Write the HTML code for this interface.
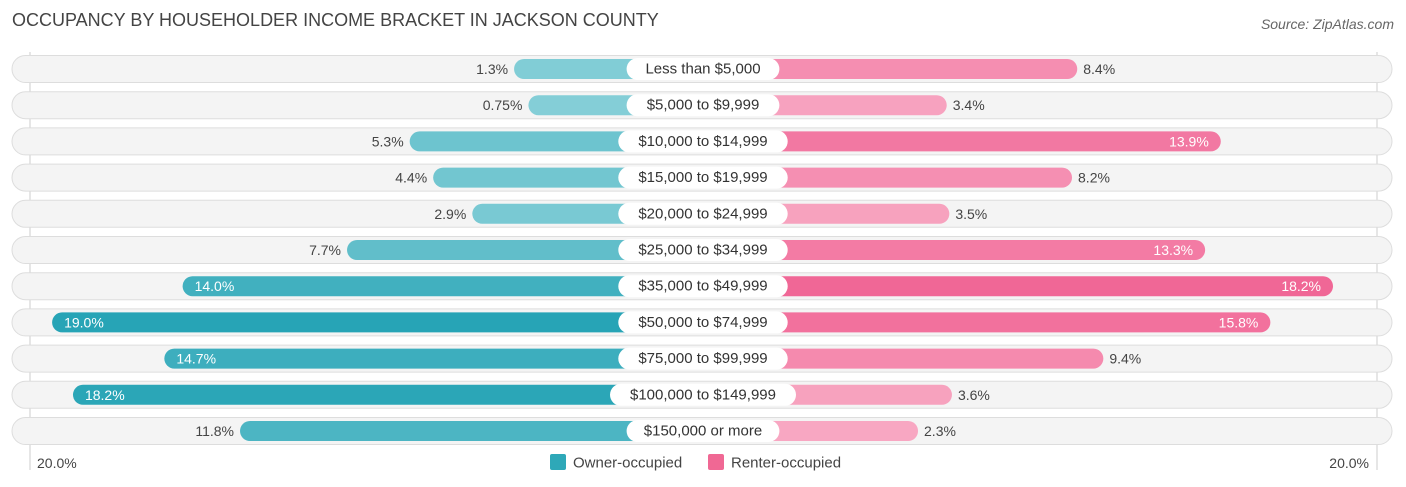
<!DOCTYPE html>
<html><head><meta charset="utf-8">
<style>
body{margin:0;background:#fff;font-family:"Liberation Sans",sans-serif;}
#wrap{position:relative;width:1406px;height:487px;overflow:hidden;}
.t{position:absolute;white-space:nowrap;}
</style></head>
<body>
<div id="wrap">
<div class="t" style="left:12px;top:10px;font-size:18px;color:#444;">OCCUPANCY BY HOUSEHOLDER INCOME BRACKET IN JACKSON COUNTY</div>
<div class="t" style="right:12px;top:16px;font-size:14px;color:#666;font-style:italic;">Source: ZipAtlas.com</div>
<svg id="svg" width="1406" height="487" style="position:absolute;left:0;top:0;"></svg>
</div>
<script>
const categories=["Less than $5,000","$5,000 to $9,999","$10,000 to $14,999","$15,000 to $19,999","$20,000 to $24,999","$25,000 to $34,999","$35,000 to $49,999","$50,000 to $74,999","$75,000 to $99,999","$100,000 to $149,999","$150,000 or more"];
const ownerValues=[1.3,0.75,5.3,4.4,2.9,7.7,14.0,19.0,14.7,18.2,11.8];
const renterValues=[8.4,3.4,13.9,8.2,3.5,13.3,18.2,15.8,9.4,3.6,2.3];
const ownerLabels=["1.3%","0.75%","5.3%","4.4%","2.9%","7.7%","14.0%","19.0%","14.7%","18.2%","11.8%"];
const renterLabels=["8.4%","3.4%","13.9%","8.2%","3.5%","13.3%","18.2%","15.8%","9.4%","3.6%","2.3%"];
const axisLabels=["20.0%","20.0%"];

const NS="http://www.w3.org/2000/svg";
const svg=document.getElementById('svg');
const CX=703,K=26.1,C=155;
function xLen(v){return C+v*K;}
function yRow(i){return 69+i*36.2;}
function mix(a,b,t){return '#'+a.map((c,j)=>Math.round(c+(b[j]-c)*t).toString(16).padStart(2,'0')).join('');}
function mk(tag,attrs){const e=document.createElementNS(NS,tag);for(const k in attrs)e.setAttribute(k,attrs[k]);svg.appendChild(e);return e;}
function txt(x,y,s,anchor,fill,size){const e=mk('text',{x:x,y:y,'text-anchor':anchor,fill:fill,'font-size':size||14,'font-family':'Liberation Sans, sans-serif','dominant-baseline':'central'});e.textContent=s;return e;}

// gridlines
let g1=mk('line',{x1:30,x2:30,y1:52,y2:470,stroke:'#ccc','stroke-width':1});


let g2=mk('line',{x1:1377,x2:1377,y1:52,y2:470,stroke:'#ccc','stroke-width':1});



categories.forEach((cat,i)=>{
  const y=yRow(i);
  const bg=mk('rect',{x:12,y:y-13.5,width:1380,height:27,rx:13.5,fill:'#f4f4f4',stroke:'#ddd','stroke-width':1});
  
  
  const ov=ownerValues[i],rv=renterValues[i];
  const ol=xLen(ov),rl=xLen(rv);
  const ob=mk('rect',{x:CX-ol,y:y-10,width:ol,height:20,rx:10,fill:mix([0x88,0xd0,0xd8],[0x27,0xa4,0xb6],Math.min(ov/19,1))});
  
  
  const rb=mk('rect',{x:CX,y:y-10,width:rl,height:20,rx:10,fill:mix([0xf9,0xb0,0xc8],[0xf0,0x64,0x94],Math.min(rv/19,1))});
  
  
  let ot;
  if(ov>=13){ot=txt(CX-ol+12,y,ownerLabels[i],'start','#fff');}
  else{ot=txt(CX-ol-6,y,ownerLabels[i],'end','#444');}
  
  
  let rt;
  if(rv>=13){rt=txt(CX+rl-12,y,renterLabels[i],'end','#fff');}
  else{rt=txt(CX+rl+6,y,renterLabels[i],'start','#444');}
  
  
  const w=cat.length*8.3+20;
  const lp=mk('rect',{x:CX-w/2,y:y-11,width:w,height:22,rx:11,fill:'#fff'});
  
  
  const lt=txt(CX,y,cat,'middle','#333',15);
  
  
});
let a1=txt(37,463,axisLabels[0],'start','#444');


let a2=txt(1369,463,axisLabels[1],'end','#444');


let l1=mk('rect',{x:550,y:454,width:16,height:16,rx:2,fill:'#2ea8b8'});


let l1t=txt(573,463,'Owner-occupied','start','#444',15);


let l2=mk('rect',{x:708,y:454,width:16,height:16,rx:2,fill:'#f06894'});


let l2t=txt(731,463,'Renter-occupied','start','#444',15);


</script>
</body></html>
